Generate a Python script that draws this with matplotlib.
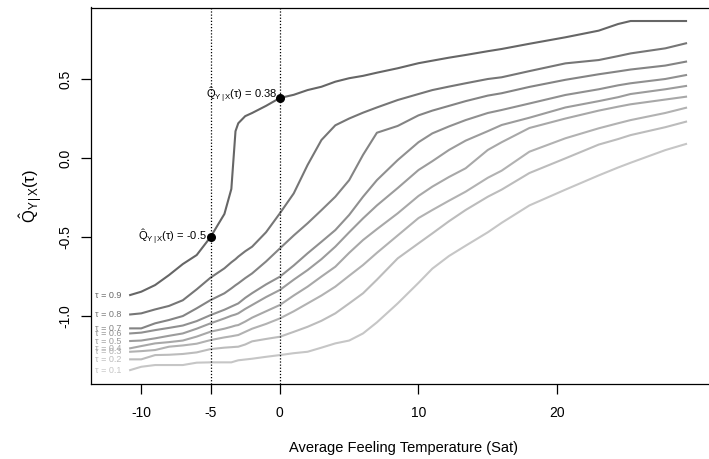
import matplotlib
matplotlib.use("Agg")
import matplotlib.pyplot as plt

plt.rcParams['font.family'] = ['Liberation Sans', 'DejaVu Sans']
plt.rcParams['mathtext.fontset'] = 'custom'
plt.rcParams['mathtext.rm'] = 'Liberation Sans'
plt.rcParams['mathtext.it'] = 'Liberation Sans'
plt.rcParams['mathtext.bf'] = 'Liberation Sans:bold'

# grid of average feeling temperature values
temp = [-10.8, -10, -9, -8, -7, -6, -5, -4, -3.5, -3.2, -3, -2.5, -2, -1, 0, 1, 2, 3,
        4, 5, 6, 7, 8.5, 10, 11, 12.2, 13.4, 15, 16, 18, 20.6, 23, 24.4, 25.3, 27.8, 29.3]

# estimated conditional quantiles, one list per tau
q90 = [-0.867, -0.846, -0.804, -0.741, -0.671, -0.614, -0.50, -0.354, -0.196, 0.17, 0.22,
       0.265, 0.285, 0.33, 0.38, 0.40, 0.43, 0.451, 0.483, 0.505, 0.52, 0.54, 0.568, 0.60,
       0.616, 0.635, 0.652, 0.676, 0.69, 0.723, 0.764, 0.806, 0.848, 0.867, 0.867, 0.867]
q80 = [-0.990, -0.983, -0.958, -0.936, -0.90, -0.831, -0.757, -0.698, -0.66, -0.64, -0.624,
       -0.59, -0.561, -0.47, -0.350, -0.224, -0.044, 0.114, 0.207, 0.25, 0.287, 0.32, 0.367,
       0.405, 0.430, 0.452, 0.473, 0.50, 0.511, 0.55, 0.599, 0.620, 0.645, 0.662, 0.694, 0.726]
q70 = [-1.078, -1.078, -1.046, -1.025, -1.00, -0.951, -0.899, -0.856, -0.825, -0.805, -0.793,
       -0.76, -0.730, -0.655, -0.572, -0.49, -0.413, -0.33, -0.245, -0.14, 0.02, 0.16, 0.203,
       0.27, 0.30, 0.33, 0.36, 0.395, 0.41, 0.45, 0.495, 0.53, 0.548, 0.56, 0.585, 0.610]
q60 = [-1.110, -1.105, -1.089, -1.075, -1.06, -1.032, -0.994, -0.96, -0.94, -0.928, -0.920,
       -0.885, -0.855, -0.80, -0.751, -0.68, -0.603, -0.53, -0.456, -0.36, -0.245, -0.14, -0.013,
       0.10, 0.156, 0.20, 0.24, 0.285, 0.304, 0.345, 0.399, 0.435, 0.46, 0.473, 0.50, 0.525]
q50 = [-1.158, -1.155, -1.141, -1.125, -1.11, -1.08, -1.046, -1.015, -0.998, -0.99, -0.983,
       -0.955, -0.93, -0.88, -0.835, -0.77, -0.709, -0.64, -0.561, -0.47, -0.382, -0.30, -0.19,
       -0.076, -0.02, 0.051, 0.11, 0.17, 0.209, 0.255, 0.320, 0.36, 0.385, 0.405, 0.435, 0.456]
q40 = [-1.204, -1.19, -1.173, -1.165, -1.155, -1.13, -1.099, -1.08, -1.068, -1.06, -1.057,
       -1.035, -1.01, -0.97, -0.930, -0.87, -0.814, -0.75, -0.688, -0.60, -0.519, -0.45, -0.350,
       -0.24, -0.181, -0.12, -0.065, 0.051, 0.10, 0.19, 0.25, 0.30, 0.325, 0.34, 0.37, 0.388]
q30 = [-1.226, -1.222, -1.215, -1.194, -1.186, -1.175, -1.152, -1.135, -1.128, -1.123, -1.120,
       -1.10, -1.08, -1.05, -1.015, -0.97, -0.920, -0.87, -0.814, -0.745, -0.677, -0.60, -0.49,
       -0.38, -0.329, -0.27, -0.213, -0.125, -0.08, 0.04, 0.125, 0.188, 0.22, 0.240, 0.285, 0.318]
q20 = [-1.274, -1.274, -1.247, -1.245, -1.24, -1.23, -1.209, -1.20, -1.197, -1.195, -1.194,
       -1.18, -1.16, -1.145, -1.131, -1.10, -1.068, -1.03, -0.983, -0.92, -0.856, -0.77, -0.635,
       -0.54, -0.477, -0.40, -0.329, -0.245, -0.20, -0.095, -0.002, 0.085, 0.12, 0.145, 0.195, 0.230]
q10 = [-1.342, -1.321, -1.310, -1.310, -1.310, -1.295, -1.293, -1.293, -1.293, -1.285, -1.28,
       -1.275, -1.27, -1.258, -1.247, -1.235, -1.226, -1.20, -1.173, -1.155, -1.11, -1.04, -0.920,
       -0.79, -0.70, -0.62, -0.555, -0.47, -0.41, -0.30, -0.20, -0.11, -0.06, -0.03, 0.05, 0.089]

taus = [0.1, 0.2, 0.3, 0.4, 0.5, 0.6, 0.7, 0.8, 0.9]
curves = [q10, q20, q30, q40, q50, q60, q70, q80, q90]
grays = ['#c6c6c6', '#bcbcbc', '#b2b2b2', '#a8a8a8', '#9c9c9c', '#909090', '#848484', '#767676', '#666666']

# highlighted points on the tau = 0.9 curve
mark_x = [-5, 0]
mark_y = [-0.5, 0.38]
mark_txt = ['-0.5', '0.38']

fig = plt.figure(figsize=(7.09, 4.59), dpi=100)
# plot box runs slightly past the right edge of the image, as in the original
ax = fig.add_axes([90.5 / 709, 1 - 384 / 459, (717.5 - 90.5) / 709, (384 - 7.5) / 459])

for tau, q, c in zip(taus, curves, grays):
    ax.plot(temp, q, color=c, lw=1.5, solid_joinstyle='round')
    ax.text(-13.3, q[0], f'τ = {tau}', color=c, fontsize=6.5, ha='left', va='center')

for xv in mark_x:
    ax.axvline(xv, color='black', lw=0.9, linestyle=(0, (1, 1.5)))

ax.scatter(mark_x, mark_y, s=30, color='black', zorder=5)
qhat = r'$\hat{\mathrm{Q}}_{\mathrm{Y\,|\,X}}(\tau)$'
ax.text(-5.25, -0.5, qhat + ' = ' + mark_txt[0], fontsize=8, ha='right', va='center')
ax.text(-0.2, 0.395, qhat + ' = ' + mark_txt[1], fontsize=8, ha='right', va='center')

ax.set_xlim(-13.66, 31.57)
ax.set_ylim(-1.430, 0.9525)
ax.set_xticks([-10, -5, 0, 10, 20])
ax.set_xticklabels(['-10', '-5', '0', '10', '20'])
ax.set_yticks([-1.0, -0.5, 0.0, 0.5])
ax.set_yticklabels(['-1.0', '-0.5', '0.0', '0.5'], rotation=90, va='center')
ax.tick_params(direction='out', length=7, width=0.9, labelsize=10)
ax.tick_params(axis='x', pad=9)
ax.tick_params(axis='y', pad=6)
for s in ax.spines.values():
    s.set_linewidth(0.9)

ax.set_xlabel('Average Feeling Temperature (Sat)', fontsize=10.5, labelpad=15)
ax.set_ylabel(r'$\hat{\mathrm{Q}}_{\mathrm{Y\,|\,X}}(\tau)$', fontsize=12, labelpad=10)

fig.savefig('out.png', dpi=100, facecolor='white')
